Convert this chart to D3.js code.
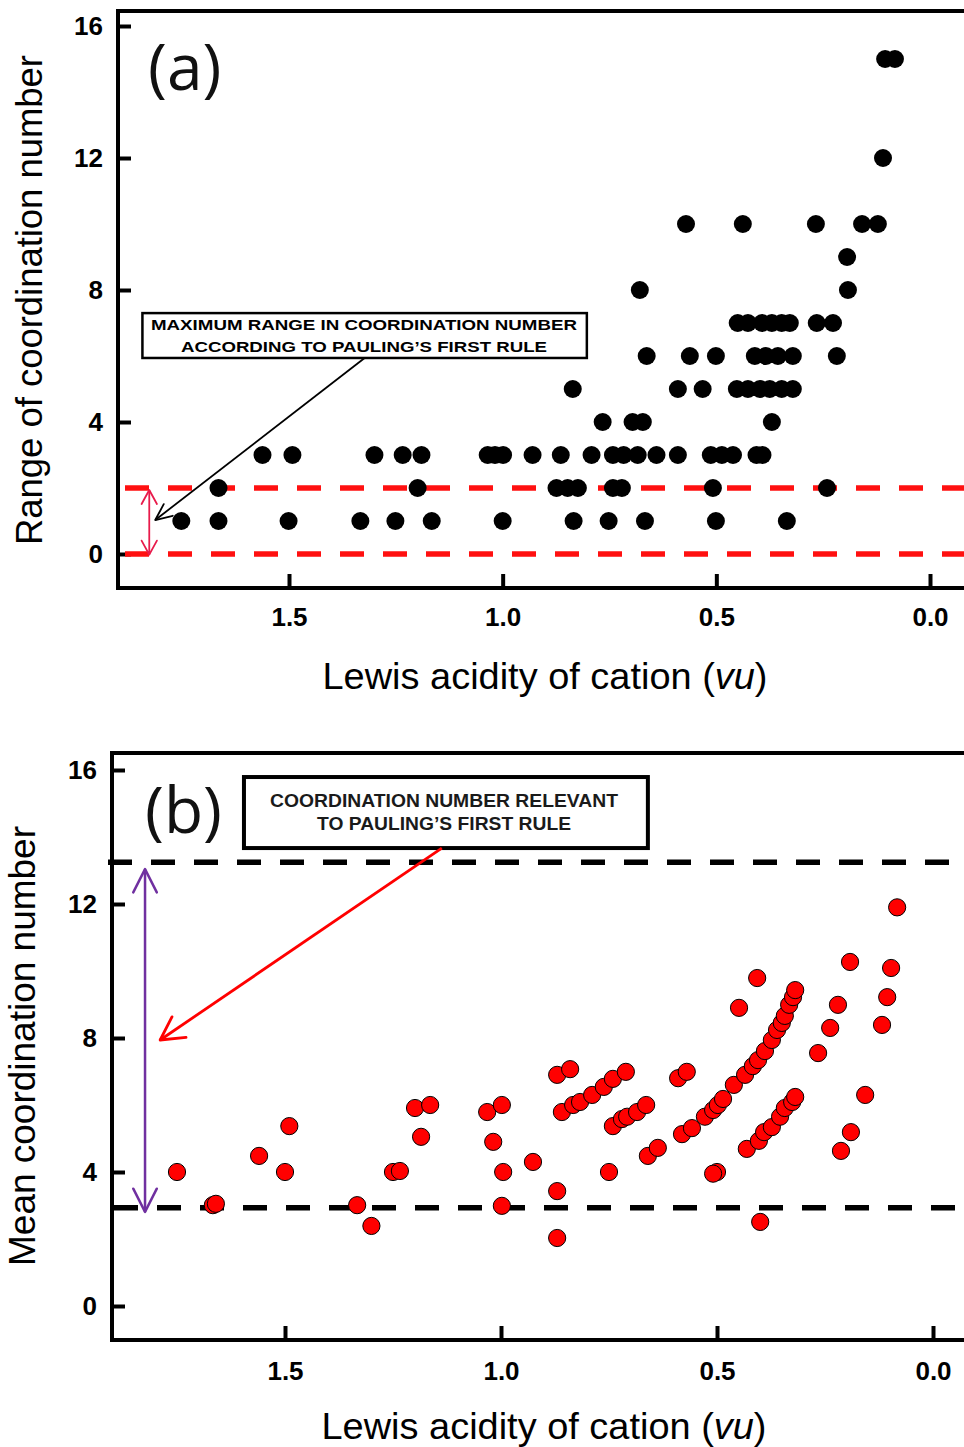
<!DOCTYPE html>
<html><head><meta charset="utf-8">
<script src="https://cdn.jsdelivr.net/npm/d3@7"></script>
<style>body{margin:0;background:#fff}svg{display:block}</style>
</head><body>
<svg id="c" width="964" height="1447"></svg>
<script>
// ---------- data ----------
const xTicks = [1.5, 1.0, 0.5, 0.0];
const yTicks = [0, 4, 8, 12, 16];

// panel (a): [Lewis acidity (vu), range of coordination number]
const rangeRow1 = [[1.752,1],[1.665,1],[1.501,1],[1.333,1],[1.251,1],[1.166,1],[1.0,1],[0.834,1],[0.752,1],[0.667,1],[0.501,1],[0.335,1]];
const rangeRow2 = [[1.665,2],[1.199,2],[0.874,2],[0.848,2],[0.824,2],[0.742,2],[0.721,2],[0.508,2],[0.241,2]];
const rangeRow3 = [[1.562,3],[1.492,3],[1.30,3],[1.234,3],[1.190,3],[1.035,3],[1.018,3],[0.999,3],[0.930,3],[0.864,3],[0.792,3],[0.742,3],[0.717,3],[0.684,3],[0.640,3],[0.590,3],[0.513,3],[0.487,3],[0.461,3],[0.406,3],[0.392,3]];
const rangeRow4 = [[0.766,4],[0.696,4],[0.672,4],[0.370,4]];
const rangeRow5 = [[0.836,5],[0.590,5],[0.532,5],[0.452,5],[0.426,5],[0.398,5],[0.375,5],[0.347,5],[0.321,5]];
const rangeRow6 = [[0.663,6],[0.562,6],[0.501,6],[0.410,6],[0.384,6],[0.356,6],[0.321,6],[0.218,6]];
const rangeRow7 = [[0.450,7],[0.426,7],[0.393,7],[0.370,7],[0.347,7],[0.328,7],[0.265,7],[0.227,7]];
const rangeRowHigh = [[0.679,8],[0.192,8],[0.194,9],[0.571,10],[0.438,10],[0.267,10],[0.159,10],[0.122,10],[0.110,12],[0.105,15],[0.082,15]];

// panel (b): [Lewis acidity (vu), mean coordination number]
const meanCN = [
 [1.75,4.0],[1.667,3.01],[1.66,3.05],[1.56,4.48],[1.49,5.37],[1.50,4.0],[1.333,3.01],[1.30,2.39],
 [1.25,4.0],[1.234,4.03],[1.199,5.91],[1.164,6.0],[1.185,5.05],[1.032,5.79],[0.998,6.0],[1.018,4.9],
 [0.995,4.0],[0.998,2.99],[0.926,4.3],[0.870,3.43],[0.870,2.03],[0.870,6.9],[0.840,7.07],[0.859,5.79],
 [0.833,6.0],[0.817,6.09],[0.789,6.3],[0.762,6.54],[0.741,6.78],[0.711,6.99],[0.750,4.0],[0.741,5.37],
 [0.720,5.58],[0.708,5.65],[0.685,5.79],[0.664,6.0],[0.660,4.48],[0.637,4.72],[0.590,6.8],[0.570,6.99],
 [0.581,5.13],[0.558,5.31],[0.500,4.0],[0.509,3.95],[0.528,5.65],[0.509,5.85],[0.498,6.0],[0.486,6.18],
 [0.461,6.6],[0.435,6.9],[0.417,7.16],[0.405,7.34],[0.389,7.61],[0.373,7.94],[0.361,8.24],[0.350,8.45],
 [0.343,8.66],[0.333,8.99],[0.324,9.22],[0.319,9.43],[0.431,4.69],[0.403,4.93],[0.391,5.19],[0.373,5.34],
 [0.354,5.65],[0.343,5.91],[0.326,6.09],[0.319,6.24],[0.400,2.51],[0.266,7.55],[0.238,8.3],[0.157,6.3],
 [0.190,5.19],[0.213,4.63],[0.118,8.39],[0.083,11.9],[0.192,10.27],[0.097,10.09],[0.407,9.79],[0.449,8.9],
 [0.220,8.99],[0.106,9.22]
];

const rangeLimits = [0, 2];          // red dashed lines, panel (a)
const meanLimits = [2.93, 13.25];    // black dashed lines, panel (b)

const labelA = ["MAXIMUM RANGE IN COORDINATION NUMBER", "ACCORDING TO PAULING\u2019S FIRST RULE"];
const labelB = ["COORDINATION NUMBER RELEVANT", "TO PAULING\u2019S FIRST RULE"];

// ---------- drawing ----------
const svg = d3.select("#c");
const sans = "Liberation Sans, Arial, sans-serif";

function panel(o) {
  const g = svg.append("g");
  const x = d3.scaleLinear().domain([1.5, 0]).range(o.xr);
  const y = d3.scaleLinear().domain([0, 16]).range(o.yr);

  const ya = d3.axisLeft(y).tickValues(yTicks).tickFormat(d3.format("d")).tickSizeInner(-13).tickSizeOuter(0).tickPadding(15);
  const xa = d3.axisBottom(x).tickValues(xTicks).tickFormat(d3.format(".1f")).tickSizeInner(-14).tickSizeOuter(0).tickPadding(o.xPad);
  const gy = g.append("g").attr("transform", `translate(${o.left},0)`).call(ya);
  const gx = g.append("g").attr("transform", `translate(0,${o.bottom})`).call(xa);
  [gx, gy].forEach(a => {
    a.select(".domain").remove();
    a.selectAll("line").attr("stroke", "#000").attr("stroke-width", 4);
    a.selectAll("text").attr("font-family", sans)
      .attr("font-weight", "bold").attr("font-size", 26).attr("fill", "#000");
  });

  g.append("path").attr("d", `M1000,${o.top}H${o.left}V${o.bottom}H1000`)
    .attr("fill", "none").attr("stroke", "#000").attr("stroke-width", 4);

  o.limits.forEach((v, i) => {
    g.append("line").attr("x1", o.dashStart[i]).attr("x2", 964).attr("y1", y(v)).attr("y2", y(v))
      .attr("stroke", o.dashColor).attr("stroke-width", 5.5).attr("stroke-dasharray", "24 19");
  });

  return { g, x, y };
}

function arrowHead(g, tip, from, len, spread, color, w) {
  const ang = Math.atan2(tip[1] - from[1], tip[0] - from[0]);
  const p = s => [tip[0] - len * Math.cos(ang + s * spread), tip[1] - len * Math.sin(ang + s * spread)];
  const a = p(1), b = p(-1);
  g.append("path").attr("d", `M${a}L${tip}L${b}`).attr("fill", "none").attr("stroke", color)
    .attr("stroke-width", w).attr("stroke-linecap", "round").attr("stroke-linejoin", "round");
}

function xTitle(g, cx, base) {
  const t = g.append("text").attr("x", cx).attr("y", base).attr("text-anchor", "middle")
    .attr("font-family", sans).attr("font-size", 37).attr("textLength", 445).attr("lengthAdjust", "spacingAndGlyphs");
  t.append("tspan").text("Lewis acidity of cation (");
  t.append("tspan").attr("font-style", "italic").text("vu");
  t.append("tspan").text(")");
}

// ----- panel (a)
const A = panel({ xr: [289, 930], yr: [554, 26], left: 118, top: 11, bottom: 588, xPad: 20,
  limits: rangeLimits, dashColor: "#ff1010", dashStart: [125, 125] });
const allRange = [].concat(rangeRow1, rangeRow2, rangeRow3, rangeRow4, rangeRow5, rangeRow6, rangeRow7, rangeRowHigh);
A.g.append("g").selectAll("circle").data(allRange).join("circle")
  .attr("cx", d => A.x(d[0])).attr("cy", d => A.y(d[1])).attr("r", 9).attr("fill", "#000");

A.g.append("rect").attr("x", A.x(1.843)).attr("y", A.y(7.30))
  .attr("width", A.x(0.803) - A.x(1.843)).attr("height", A.y(5.94) - A.y(7.30))
  .attr("fill", "#fff").attr("stroke", "#000").attr("stroke-width", 2.5);
labelA.forEach((t, i) => {
  A.g.append("text").attr("x", 364).attr("y", [330, 352][i]).attr("text-anchor", "middle")
    .attr("font-family", sans).attr("font-weight", "bold").attr("font-size", 15.5)
    .attr("textLength", [426, 366][i]).attr("lengthAdjust", "spacingAndGlyphs").text(t);
});
{
  const s = [A.x(1.323), A.y(5.94)], t = [A.x(1.813), A.y(1.03)];
  A.g.append("line").attr("x1", s[0]).attr("y1", s[1]).attr("x2", t[0]).attr("y2", t[1])
    .attr("stroke", "#000").attr("stroke-width", 1.8);
  arrowHead(A.g, t, s, 18, 0.42, "#000", 1.8);
  const c = "#e81b4b", xa = A.x(1.827), t1 = [xa, A.y(1.94)], t2 = [xa, A.y(-0.02)];
  A.g.append("line").attr("x1", xa).attr("x2", xa).attr("y1", t1[1]).attr("y2", t2[1]).attr("stroke", c).attr("stroke-width", 1.8);
  arrowHead(A.g, t1, t2, 16, 0.5, c, 1.8);
  arrowHead(A.g, t2, t1, 16, 0.5, c, 1.8);
}
A.g.append("text").attr("x", 148).attr("y", 90).attr("font-family", "Open Sans, sans-serif")
  .attr("font-size", 64).attr("fill", "#111").text("(a)");

xTitle(A.g, 545, 689);
A.g.append("text").attr("transform", "translate(42,300) rotate(-90)").attr("text-anchor", "middle")
  .attr("font-family", sans).attr("font-size", 36.5).attr("textLength", 490).attr("lengthAdjust", "spacingAndGlyphs")
  .text("Range of coordination number");

// ----- panel (b)
const B = panel({ xr: [285, 933], yr: [1306, 770], left: 112, top: 753, bottom: 1340, xPad: 22,
  limits: meanLimits, dashColor: "#000", dashStart: [114, 108] });
B.g.append("g").selectAll("circle").data(meanCN).join("circle")
  .attr("cx", d => B.x(d[0])).attr("cy", d => B.y(d[1])).attr("r", 8.6)
  .attr("fill", "#ff0000").attr("stroke", "#000").attr("stroke-width", 1);

B.g.append("rect").attr("x", B.x(1.595)).attr("y", B.y(15.79))
  .attr("width", B.x(0.660) - B.x(1.595)).attr("height", B.y(13.67) - B.y(15.79))
  .attr("fill", "#fff").attr("stroke", "#000").attr("stroke-width", 4);
labelB.forEach((t, i) => {
  B.g.append("text").attr("x", 444).attr("y", [807, 830][i]).attr("text-anchor", "middle")
    .attr("font-family", sans).attr("font-weight", "bold").attr("font-size", 18.5).attr("fill", "#1a1a1a")
    .attr("textLength", [348, 254][i]).attr("lengthAdjust", "spacingAndGlyphs").text(t);
});
{
  const s = [B.x(1.137), B.y(13.67)], t = [B.x(1.789), B.y(7.94)];
  B.g.append("line").attr("x1", s[0]).attr("y1", s[1]).attr("x2", t[0]).attr("y2", t[1])
    .attr("stroke", "#ff0000").attr("stroke-width", 2.8);
  arrowHead(B.g, t, s, 26, 0.5, "#ff0000", 2.8);
  const c = "#7030a0", xa = B.x(1.824), t1 = [xa, B.y(13.04)], t2 = [xa, B.y(2.81)];
  B.g.append("line").attr("x1", xa).attr("x2", xa).attr("y1", t1[1]).attr("y2", t2[1]).attr("stroke", c).attr("stroke-width", 2.5);
  arrowHead(B.g, t1, t2, 26, 0.47, c, 2.5);
  arrowHead(B.g, t2, t1, 26, 0.47, c, 2.5);
}
B.g.append("text").attr("x", 145).attr("y", 833).attr("font-family", "Open Sans, sans-serif")
  .attr("font-size", 64).attr("fill", "#111").text("(b)");

xTitle(B.g, 544, 1439);
B.g.append("text").attr("transform", "translate(35,1046) rotate(-90)").attr("text-anchor", "middle")
  .attr("font-family", sans).attr("font-size", 37).attr("textLength", 440).attr("lengthAdjust", "spacingAndGlyphs")
  .text("Mean coordination number");
</script>
</body></html>
